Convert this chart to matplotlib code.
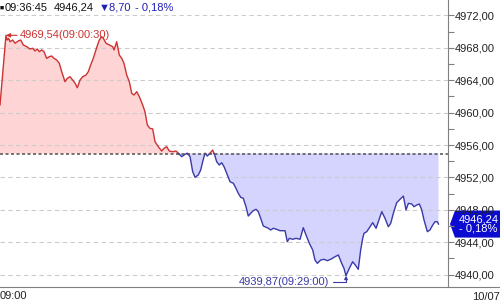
import numpy as np
import matplotlib
matplotlib.use('Agg')
import matplotlib.pyplot as plt
import matplotlib.transforms as mtransforms
from matplotlib.lines import Line2D
from matplotlib.patches import Polygon
from matplotlib.ticker import FuncFormatter

# minutos desde las 09:00 y precio del indice
minutes = [0.00, 0.50, 0.60, 0.72, 0.84, 1.06, 1.26, 1.53, 1.74, 1.95, 2.24, 2.51, 2.74, 2.93,
           3.13, 3.29, 3.50, 3.69, 3.91, 4.13, 4.33, 4.53, 4.75, 4.97, 5.17, 5.45, 5.64, 5.87,
           6.09, 6.29, 6.48, 6.71, 6.93, 7.21, 7.40, 7.60, 7.82, 8.11, 8.32, 8.52, 8.66, 8.89,
           9.16, 9.45, 9.56, 9.78, 10.00, 10.20, 10.39, 10.62, 10.84, 11.04, 11.23, 11.46, 11.68,
           11.96, 12.15, 12.35, 12.57, 12.80, 12.99, 13.27, 13.55, 13.75, 13.97, 14.19, 14.48,
           14.75, 14.95, 15.23, 15.51, 15.70, 15.93, 16.15, 16.35, 16.62, 16.82, 16.99, 17.18,
           17.38, 17.60, 17.83, 18.02, 18.16, 18.38, 18.58, 18.78, 19.00, 19.28, 19.56, 19.78,
           19.97, 20.18, 20.39, 20.62, 20.81, 21.01, 21.23, 21.46, 21.65, 21.85, 22.07, 22.30,
           22.49, 22.69, 22.91, 23.19, 23.47, 23.89, 24.08, 24.25, 24.54, 24.81, 25.15, 25.42,
           25.65, 25.93, 26.21, 26.40, 26.60, 26.88, 27.16, 27.44, 27.72, 28.08, 28.36, 28.64,
           28.83, 29.00, 29.28, 29.56, 29.84, 30.03, 30.23, 30.40, 30.51, 30.74, 31.01, 31.24,
           31.52, 31.71, 32.00, 32.27, 32.55, 32.75, 32.97, 33.25, 33.53, 33.81, 34.03, 34.23,
           34.51, 34.70, 34.93, 35.15, 35.35, 35.54, 35.82, 36.04, 36.27, 36.46, 36.66, 36.75]
prices = [4960.94, 4969.54, 4968.96, 4969.17, 4968.75, 4968.96, 4968.56, 4968.84, 4968.96,
          4968.35, 4968.14, 4967.85, 4967.94, 4967.61, 4967.85, 4967.52, 4967.73, 4967.52,
          4966.70, 4966.90, 4966.99, 4966.70, 4966.49, 4966.09, 4965.05, 4963.81, 4964.23,
          4964.43, 4964.02, 4963.62, 4963.07, 4964.02, 4964.43, 4964.64, 4965.05, 4965.88,
          4966.70, 4968.05, 4968.96, 4969.37, 4969.17, 4968.56, 4968.35, 4968.14, 4967.73,
          4968.75, 4967.11, 4966.70, 4966.09, 4964.64, 4963.81, 4962.38, 4962.17, 4962.58,
          4961.96, 4960.94, 4960.11, 4958.47, 4958.06, 4957.98, 4956.41, 4955.79, 4955.26,
          4955.59, 4955.79, 4955.26, 4955.17, 4955.26, 4954.98, 4954.56, 4954.85, 4954.98,
          4954.56, 4952.70, 4952.01, 4952.30, 4952.91, 4953.94, 4954.98, 4954.64, 4954.98,
          4955.38, 4954.64, 4953.94, 4953.53, 4953.81, 4953.32, 4952.51, 4951.47, 4951.27,
          4950.65, 4950.04, 4949.54, 4949.42, 4948.38, 4947.23, 4947.57, 4947.89, 4948.06,
          4947.77, 4946.95, 4946.00, 4945.84, 4945.72, 4945.51, 4945.72, 4945.59, 4945.42,
          4945.42, 4944.06, 4944.48, 4944.36, 4944.48, 4944.36, 4945.79, 4944.89, 4943.86,
          4943.04, 4941.80, 4941.39, 4941.80, 4941.89, 4941.72, 4941.89, 4942.21, 4942.42,
          4941.39, 4940.78, 4939.87, 4940.78, 4941.59, 4941.06, 4940.65, 4943.04, 4944.48,
          4945.10, 4945.30, 4945.91, 4946.41, 4945.72, 4946.53, 4947.77, 4946.95, 4945.91,
          4946.33, 4947.57, 4948.88, 4949.30, 4949.70, 4947.98, 4948.80, 4948.72, 4948.38,
          4948.59, 4948.72, 4947.98, 4946.74, 4945.30, 4945.51, 4946.12, 4946.53, 4946.53,
          4946.24]
prev_close = 4954.94
high_point = (0.50, 4969.54, "4969,54(09:00:30)")
low_point = (29.00, 4939.87, "4939,87(09:29:00)")
y_ticks = [4940, 4944, 4948, 4952, 4956, 4960, 4964, 4968, 4972]
y_minor = [4942, 4946, 4950, 4954, 4958, 4962, 4966, 4970]
x_label = "09:00"
date_label = "10/07"
header = ["09:36:45", "4946,24", "\u25bc8,70", "- 0,18%"]
last_box = ["4946,24", "- 0,18%"]

RED = '#cc3333'
PINK = '#ffd4d4'
BLUE = '#3a3aa8'
LBLUE = '#d4d4ff'
TXTBLUE = '#1e1eb0'

plt.rcParams['font.family'] = ['Liberation Sans', 'DejaVu Sans']

fig = plt.figure(figsize=(5, 3.05), dpi=100)
ax = fig.add_axes([0, 0.059, 0.896, 0.941])

# partir la linea donde cruza el cierre anterior
t = np.array(minutes)
p = np.array(prices)
ts, ps = [t[0]], [p[0]]
for i in range(1, len(t)):
    d0 = p[i - 1] - prev_close
    d1 = p[i] - prev_close
    if d0 * d1 < 0:
        f = d0 / (d0 - d1)
        ts.append(t[i - 1] + f * (t[i] - t[i - 1]))
        ps.append(prev_close)
    ts.append(t[i])
    ps.append(p[i])
ts = np.array(ts)
ps = np.array(ps)

ax.fill_between(ts, ps, prev_close, where=ps >= prev_close, color=PINK, lw=0)
ax.fill_between(ts, ps, prev_close, where=ps <= prev_close, color=LBLUE, lw=0)
ax.plot(ts, np.where(ps >= prev_close, ps, np.nan), color=RED, lw=1)
ax.plot(ts, np.where(ps <= prev_close, ps, np.nan), color=BLUE, lw=1)

ax.axhline(prev_close, color='#505050', ls=(0, (2, 1.6)), lw=1.1)

ax.set_xlim(0, 37.55)
ax.set_ylim(4938.47, 4973.9)

ax.set_yticks(y_ticks)
ax.set_yticks(y_minor, minor=True)
ax.yaxis.grid(True, which='major', ls=(0, (4, 3)), color='#cccccc', lw=0.8)
ax.yaxis.tick_right()
ax.yaxis.set_major_formatter(FuncFormatter(lambda v, _: f"{v:.2f}".replace('.', ',')))
ax.tick_params(axis='y', which='both', direction='out', length=4, width=0.8,
               color='#808080', pad=1, labelsize=8, labelcolor='#222222')

ax.set_xticks([0])
ax.set_xticklabels([x_label], ha='left')
ax.tick_params(axis='x', length=0, pad=3, labelsize=8, labelcolor='#222222')

for s in ['top', 'left', 'bottom']:
    ax.spines[s].set_visible(False)
ax.spines['right'].set_color('#808080')
ax.spines['right'].set_linewidth(0.8)
fig.add_artist(Line2D([0, 1], [0.059, 0.059], transform=fig.transFigure,
                      color='#808080', lw=0.8))

fig.text(472 / 500, 1 - 297 / 305, date_label, ha='left', va='center', fontsize=8,
         color='#222222')

# cabecera
hy = 1 - 8 / 305
fig.text(0.0, hy, "\u25a0", ha='left', va='center', fontsize=5, color='#111111')
fig.text(5 / 500, hy, header[0], ha='left', va='center', fontsize=8, color='#111111')
fig.text(54 / 500, hy, header[1], ha='left', va='center', fontsize=8, color='#111111')
fig.text(99 / 500, hy, header[2], ha='left', va='center', fontsize=8, color=TXTBLUE)
fig.text(135 / 500, hy, header[3], ha='left', va='center', fontsize=8, color=TXTBLUE)

# maximo y minimo
ax.annotate(high_point[2], xy=(high_point[0], high_point[1]), xytext=(10, 0),
            textcoords='offset points', ha='left', va='center', fontsize=8, color=RED,
            arrowprops=dict(arrowstyle='-|>', color=RED, lw=0.8, mutation_scale=6,
                            shrinkA=0, shrinkB=0))
ax.annotate(low_point[2], xy=(low_point[0], low_point[1]), xytext=(-12, -4.5),
            textcoords='offset points', ha='right', va='center', fontsize=8, color=BLUE,
            arrowprops=dict(arrowstyle='-|>', color=BLUE, lw=0.8, mutation_scale=5,
                            shrinkA=1, shrinkB=0,
                            connectionstyle='angle,angleA=0,angleB=90,rad=0'))

# caja del ultimo precio
last = prices[-1]
tr = mtransforms.blended_transform_factory(ax.transAxes, ax.transData)
h = 1.67
box = Polygon([(1.0045, last), (1.0156, last + h), (1.13, last + h),
               (1.13, last - h), (1.0156, last - h)], closed=True,
              transform=tr, clip_on=False, color='#0c0cd0', lw=0)
ax.add_patch(box)
ax.text(1.068, last, "\n".join(last_box), transform=tr, ha='center', va='center',
        fontsize=8, color='white', linespacing=0.95, clip_on=False)

fig.savefig('out.png', dpi=100)
